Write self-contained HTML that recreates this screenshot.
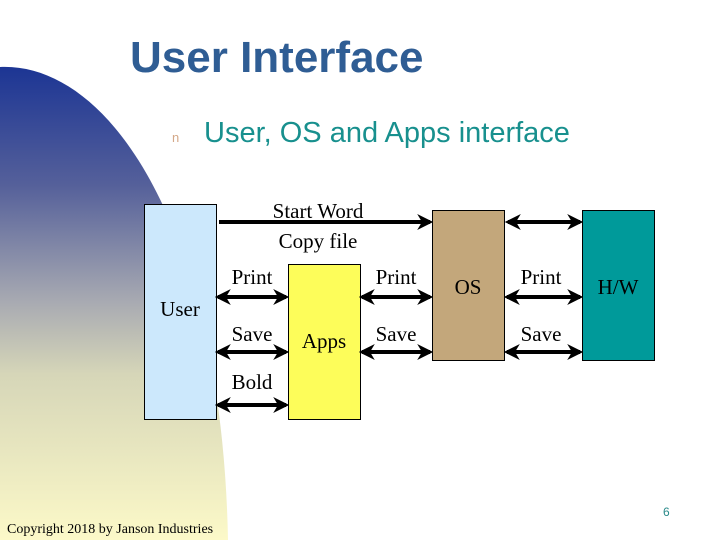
<!DOCTYPE html>
<html><head><meta charset="utf-8"><style>
html,body{margin:0;padding:0;background:#fff;}
svg{display:block}
</style></head><body>
<svg width="720" height="540" viewBox="0 0 720 540" xmlns="http://www.w3.org/2000/svg">
<defs>
<linearGradient id="g" x1="0" y1="0" x2="0" y2="1">
<stop offset="0" stop-color="#1c3594"/>
<stop offset="0.25" stop-color="#55609a"/>
<stop offset="0.5" stop-color="#a9abb2"/>
<stop offset="0.65" stop-color="#d6d6b8"/>
<stop offset="1" stop-color="#fcf9c8"/>
</linearGradient>
<marker id="a" markerWidth="4" markerHeight="4" refX="3.2" refY="2" orient="auto" markerUnits="strokeWidth">
<path d="M0,0 L4,2 L0,4 L1.2,2 Z" fill="#000"/>
</marker>
<marker id="b" markerWidth="4" markerHeight="4" refX="0.8" refY="2" orient="auto" markerUnits="strokeWidth">
<path d="M4,0 L0,2 L4,4 L2.8,2 Z" fill="#000"/>
</marker>
</defs>
<path d="M0,67 C110,62 222,230 228,540 L0,540 Z" fill="url(#g)"/>
<text x="130" y="72" font-family="Liberation Sans, sans-serif" font-weight="bold" font-size="44" fill="#2f5d94">User Interface</text>
<text x="172" y="142" font-family="Liberation Sans, sans-serif" font-size="13" fill="#d4a888">n</text>
<text x="204" y="142" font-family="Liberation Sans, sans-serif" font-size="29" fill="#18908e">User, OS and Apps interface</text>

<rect x="144.5" y="204.5" width="72" height="215" fill="#cce8fc" stroke="#000"/>
<rect x="288.5" y="264.5" width="72" height="155" fill="#fdfd5a" stroke="#000"/>
<rect x="432.5" y="210.5" width="72" height="150" fill="#c3a77b" stroke="#000"/>
<rect x="582.5" y="210.5" width="72" height="150" fill="#009a9a" stroke="#000"/>

<g font-family="Liberation Serif, serif" font-size="21" fill="#000" text-anchor="middle">
<text x="180" y="316">User</text>
<text x="324" y="348">Apps</text>
<text x="468" y="294">OS</text>
<text x="618" y="294">H/W</text>
<text x="318" y="218">Start Word</text>
<text x="318" y="248">Copy file</text>
<text x="252" y="284">Print</text>
<text x="252" y="341">Save</text>
<text x="252" y="389">Bold</text>
<text x="396" y="284">Print</text>
<text x="396" y="341">Save</text>
<text x="541" y="284">Print</text>
<text x="541" y="341">Save</text>
</g>

<g stroke="#000" stroke-width="4" fill="none">
<line x1="219" y1="222" x2="430" y2="222" marker-end="url(#a)"/>
<line x1="508" y1="222" x2="580" y2="222" marker-start="url(#b)" marker-end="url(#a)"/>
<line x1="218" y1="297" x2="286" y2="297" marker-start="url(#b)" marker-end="url(#a)"/>
<line x1="218" y1="352" x2="286" y2="352" marker-start="url(#b)" marker-end="url(#a)"/>
<line x1="218" y1="405" x2="286" y2="405" marker-start="url(#b)" marker-end="url(#a)"/>
<line x1="362" y1="297" x2="430" y2="297" marker-start="url(#b)" marker-end="url(#a)"/>
<line x1="362" y1="352" x2="430" y2="352" marker-start="url(#b)" marker-end="url(#a)"/>
<line x1="507" y1="297" x2="580" y2="297" marker-start="url(#b)" marker-end="url(#a)"/>
<line x1="507" y1="352" x2="580" y2="352" marker-start="url(#b)" marker-end="url(#a)"/>
</g>

<text x="663" y="516" font-family="Liberation Sans, sans-serif" font-size="12" fill="#2a8a8a">6</text>
<text x="7" y="533" font-family="Liberation Serif, serif" font-size="14" fill="#000">Copyright 2018 by Janson Industries</text>
</svg>
</body></html>
